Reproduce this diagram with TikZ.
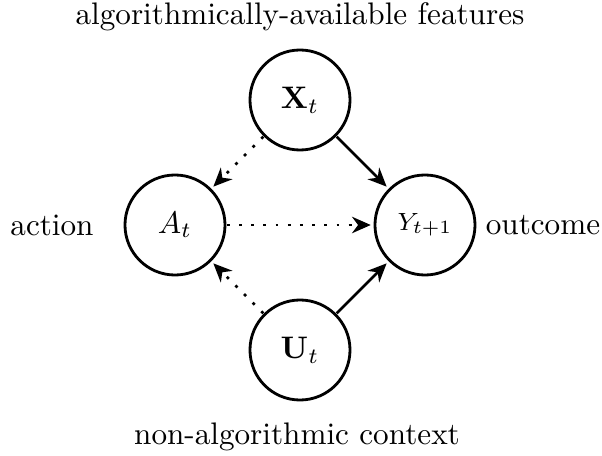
\documentclass[tikz,border=0pt]{standalone}
\usetikzlibrary{arrows.meta}

\begin{document}
\begin{tikzpicture}[->,>={Stealth[length=8pt,width=7pt]},shorten >=1pt,very thick,x=0.015cm,y=-0.015cm,
    font=\normalsize,
    var node/.style={circle,draw,scale=1.33,minimum size=1.128cm,inner sep=0pt},
    small var/.style={font=\footnotesize},
    side label/.style={scale=1.33}]
            \useasboundingbox (0,0) rectangle (602,456);

            \node[var node] (X) at (300,100) {$\mathbf{X}_t$};
            \node[var node] (A) at (175,225) {$A_t$};
            \node[var node,small var] (Y) at (425,225) {$Y_{t+1}$};
            \node[var node] (U) at (300,350) {$\mathbf{U}_t$};

            \node[side label] (top) at (300,17) {algorithmically-available features};
            \node[side label] (left) at (52,225) {action};
            \node[side label] (right) at (543,225) {outcome};
            \node[side label] (bottom) at (297,437) {non-algorithmic context};

            \path
                (X) edge[loosely dotted] (A)
                (X) edge (Y)
                (A) edge[loosely dotted] (Y)
                (U) edge[loosely dotted] (A)
                (U) edge (Y)
            ;
\end{tikzpicture}
\end{document}
